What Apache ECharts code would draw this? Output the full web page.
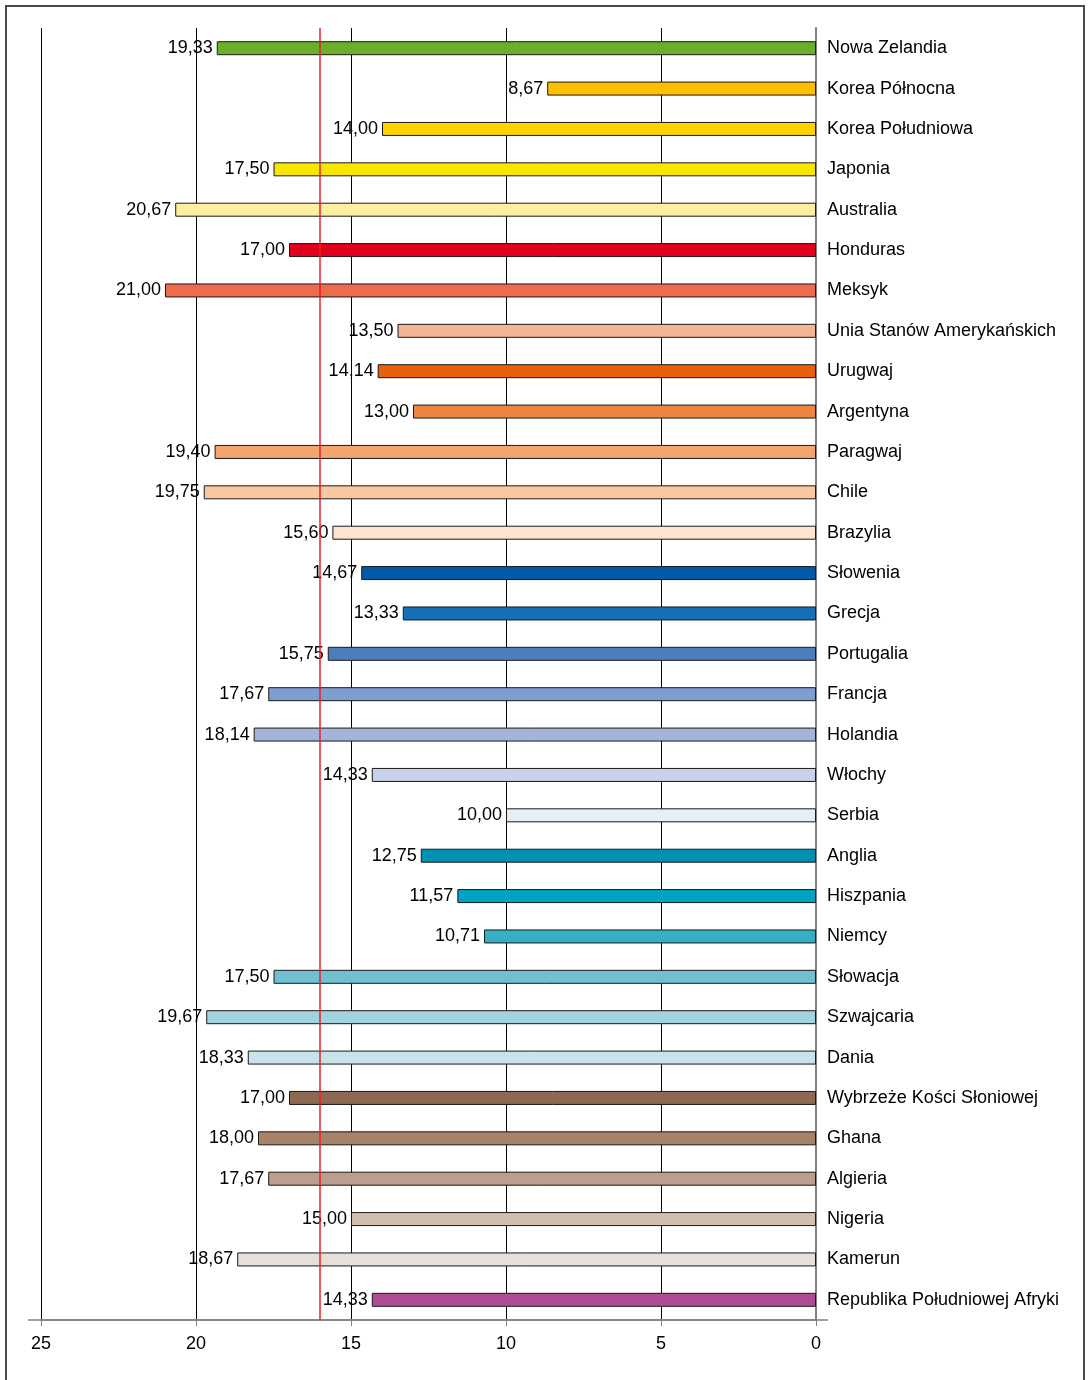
<!DOCTYPE html>
<html>
<head>
<meta charset="utf-8">
<script src="https://cdn.jsdelivr.net/npm/echarts@6/dist/echarts.min.js"></script>
<style>
html,body{margin:0;padding:0;background:#fff;}
#chart{width:1090px;height:1380px;}
</style>
</head>
<body>
<div id="chart"></div>
<script>
const categories = ["Nowa Zelandia","Korea Północna","Korea Południowa","Japonia","Australia","Honduras","Meksyk","Unia Stanów Amerykańskich","Urugwaj","Argentyna","Paragwaj","Chile","Brazylia","Słowenia","Grecja","Portugalia","Francja","Holandia","Włochy","Serbia","Anglia","Hiszpania","Niemcy","Słowacja","Szwajcaria","Dania","Wybrzeże Kości Słoniowej","Ghana","Algieria","Nigeria","Kamerun","Republika Południowej Afryki"];
const values = [19.33,8.67,14.00,17.50,20.67,17.00,21.00,13.50,14.14,13.00,19.40,19.75,15.60,14.67,13.33,15.75,17.67,18.14,14.33,10.00,12.75,11.57,10.71,17.50,19.67,18.33,17.00,18.00,17.67,15.00,18.67,14.33];
const colors = ["#6AAE2A","#FFBE00","#FFD200","#F8E600","#FCF0A0","#E2001E","#EE6C4E","#F4B496","#E8600F","#EE8442","#F4A46C","#F9C8A0","#FDE4CE","#005AA6","#1570B8","#4C7EBE","#7E9ED0","#A2B4DA","#C8D2EA","#E8EDF6","#0090B2","#00A4C2","#38AEC6","#70C0D2","#A2D4E0","#C8E4EA","#8E6850","#A88268","#BAA08C","#D2BEB0","#E8E0D8","#B04C94"];
const xTicks = [0,5,10,15,20,25];
const referenceValue = 16;

const FONT = '"Liberation Sans Narrow","Liberation Sans",Arial,sans-serif';
const chart = echarts.init(document.getElementById('chart'), null, {renderer:'canvas'});
chart.setOption({
  animation:false,
  backgroundColor:'#fff',
  graphic:[{
    type:'rect', silent:true, z:-1,
    shape:{x:6, y:6, width:1078, height:1390},
    style:{fill:'none', stroke:'#4a4a4a', lineWidth:2}
  }],
  grid:{left:41, right:274, top:28, bottom:60, containLabel:false},
  xAxis:{
    type:'value', inverse:true, min:xTicks[0], max:xTicks[xTicks.length-1], interval:5,
    axisLine:{show:true, lineStyle:{color:'#808080', width:1.5}},
    axisTick:{show:true, inside:false, length:6, lineStyle:{color:'#808080'}},
    axisLabel:{color:'#000', fontFamily:FONT, fontSize:18, margin:15},
    splitLine:{show:true, lineStyle:{color:'#000', width:1}}
  },
  yAxis:{
    type:'category', data:categories, inverse:true, position:'right',
    axisLine:{show:true, lineStyle:{color:'#808080', width:2}},
    axisTick:{show:false},
    axisLabel:{color:'#000', fontFamily:FONT, fontSize:18, margin:11, padding:[4,0,0,0]}
  },
  series:[{
    type:'bar', barWidth:14,
    data:values.map((v,i)=>({value:v, itemStyle:{color:colors[i]}})),
    itemStyle:{borderColor:'#1a1a1a', borderWidth:1},
    label:{show:true, position:'left', distance:4, color:'#000', fontFamily:FONT, fontSize:18,
      formatter:p=>p.value.toFixed(2).replace('.',',')},
    markLine:{
      silent:true, symbol:'none', label:{show:false},
      lineStyle:{color:'#E8202A', width:1.5, type:'solid'},
      data:[{xAxis:referenceValue}]
    },
    z:3
  }]
});
// decorative extension of the bottom axis line beyond the plot, as in the reference
const pL = chart.convertToPixel({gridIndex:0}, [xTicks[xTicks.length-1], categories[categories.length-1]]);
const pR = chart.convertToPixel({gridIndex:0}, [xTicks[0], categories[categories.length-1]]);
const rect = chart.getModel().getComponent('grid',0).coordinateSystem.getRect();
const yAxisLine = rect.y + rect.height;
chart.setOption({graphic:[
  {type:'rect', silent:true, z:-1, shape:{x:6, y:6, width:1078, height:1390}, style:{fill:'none', stroke:'#4a4a4a', lineWidth:2}},
  {type:'line', silent:true, z:5, shape:{x1:pL[0]-13, y1:yAxisLine, x2:pR[0]+12, y2:yAxisLine}, style:{stroke:'#808080', lineWidth:1.5}}
]});
</script>
</body>
</html>
